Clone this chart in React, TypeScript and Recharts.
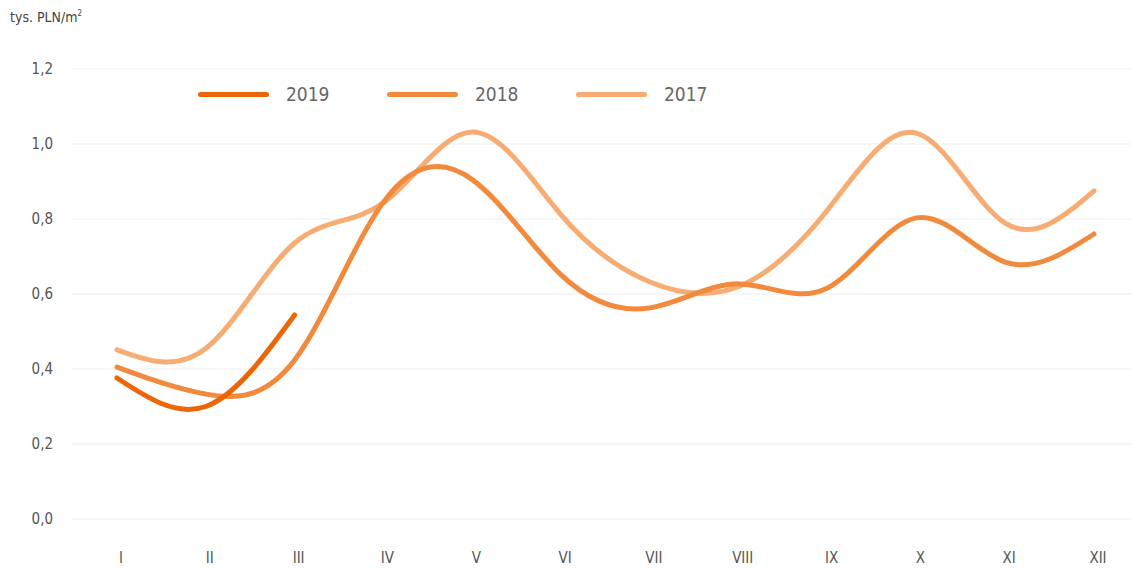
import { LineChart, Line, XAxis, YAxis, CartesianGrid } from 'recharts';

const FONT = '"Liberation Sans Narrow", "DejaVu Sans Condensed", "Open Sans", sans-serif';

const MONTHS = ['I', 'II', 'III', 'IV', 'V', 'VI', 'VII', 'VIII', 'IX', 'X', 'XI', 'XII'];
const Y2019 = [0.376, 0.3, 0.544, null, null, null, null, null, null, null, null, null];
const Y2018 = [0.405, 0.333, 0.424, 0.845, 0.905, 0.651, 0.563, 0.627, 0.616, 0.803, 0.685, 0.76];
const Y2017 = [0.451, 0.455, 0.736, 0.843, 1.032, 0.811, 0.632, 0.62, 0.824, 1.029, 0.789, 0.875];
const Y_TICKS = [0, 0.2, 0.4, 0.6, 0.8, 1.0, 1.2];

const SERIES = [
  { key: 'y2019', name: '2019', color: '#EC6608' },
  { key: 'y2018', name: '2018', color: '#F18A3D' },
  { key: 'y2017', name: '2017', color: '#F6AC72' },
];

const data = MONTHS.map((m, i) => ({ month: m, y2019: Y2019[i], y2018: Y2018[i], y2017: Y2017[i] }));

function LegendRow() {
  return (
    <div style={{ position: 'absolute', left: 198, top: 80, display: 'flex', fontFamily: FONT }}>
      {SERIES.map((s) => (
        <div key={s.key} style={{ display: 'flex', alignItems: 'center', width: 189, height: 28 }}>
          <div style={{ width: 71, height: 5, borderRadius: 3, background: s.color }} />
          <span style={{ marginLeft: 17, fontSize: 19, color: '#666' }}>{s.name}</span>
        </div>
      ))}
    </div>
  );
}

export default function App() {
  return (
    <div style={{ position: 'absolute', left: 0, top: 0, width: 1132, height: 570, background: '#fff' }}>
      <div style={{ position: 'absolute', left: 10, top: 9, fontFamily: FONT, fontSize: 14, color: '#444' }}>
        tys. PLN/m<sup style={{ fontSize: 8 }}>2</sup>
      </div>
      <LineChart width={1132} height={570} data={data} margin={{ top: 69, right: 0, left: 0, bottom: 0 }}>
        <CartesianGrid vertical={false} stroke="#EDEDED" strokeWidth={1} />
        <XAxis
          dataKey="month"
          height={51}
          padding={{ left: 45, right: 38 }}
          axisLine={false}
          tickLine={false}
          tickSize={0}
          tickMargin={33}
          interval={0}
          tick={{ fontFamily: FONT, fontSize: 15, fill: '#555', dx: 4 }}
        />
        <YAxis
          width={72}
          domain={[0, 1.2]}
          ticks={Y_TICKS}
          axisLine={false}
          tickLine={false}
          tickSize={0}
          tickMargin={19}
          tickFormatter={(v: number) => v.toFixed(1).replace('.', ',')}
          tick={{ fontFamily: FONT, fontSize: 15, fill: '#555' }}
        />
        {[...SERIES].reverse().map((s) => (
          <Line
            key={s.key}
            type="natural"
            dataKey={s.key}
            name={s.name}
            stroke={s.color}
            strokeWidth={5}
            strokeLinecap="round"
            dot={false}
            activeDot={false}
            isAnimationActive={false}
          />
        ))}
      </LineChart>
      <LegendRow />
    </div>
  );
}
